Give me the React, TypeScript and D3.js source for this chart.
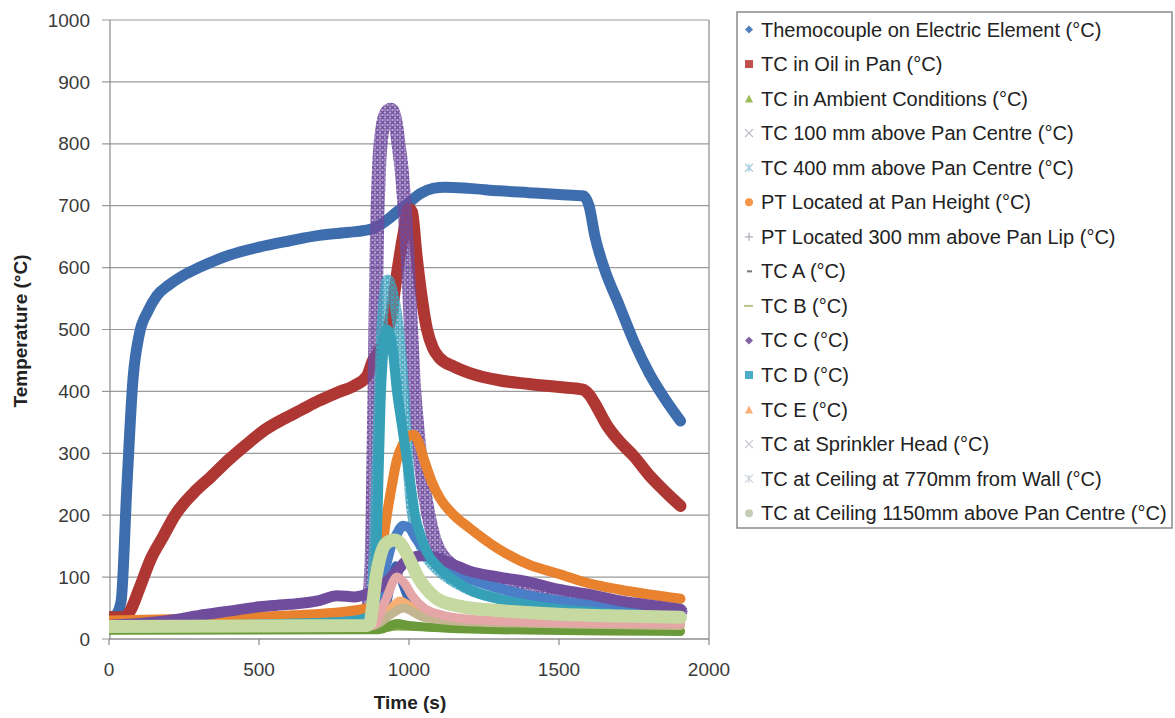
import React from 'react';
import * as d3 from 'd3';

// ---------------- data ----------------
const xTicks = [0, 500, 1000, 1500, 2000];
const yTicks = [0, 100, 200, 300, 400, 500, 600, 700, 800, 900, 1000];

const elementTime = [0, 20, 40, 60, 80, 100, 130, 160, 200, 250, 300, 400, 500, 600, 700, 800, 850, 880, 900, 930, 960, 1000, 1040, 1080, 1120, 1200, 1300, 1400, 1500, 1580, 1600, 1620, 1650, 1700, 1750, 1800, 1850, 1905];
const elementTemp = [35, 38, 60, 250, 420, 490, 530, 555, 572, 588, 600, 620, 633, 643, 652, 657, 660, 663, 668, 678, 690, 705, 720, 728, 730, 728, 724, 721, 718, 716, 700, 650, 600, 540, 480, 430, 390, 352];

const oilTime = [0, 50, 70, 100, 140, 180, 220, 280, 340, 400, 460, 520, 580, 640, 700, 760, 820, 860, 880, 900, 920, 940, 960, 980, 1000, 1010, 1025, 1040, 1060, 1080, 1100, 1150, 1200, 1300, 1400, 1500, 1580, 1600, 1620, 1660, 1700, 1750, 1800, 1850, 1905];
const oilTemp = [35, 35, 45, 80, 130, 165, 200, 235, 262, 290, 315, 338, 355, 370, 385, 398, 410, 425, 450, 465, 485, 520, 590, 650, 695, 690, 620, 560, 500, 470, 455, 440, 430, 418, 412, 407, 403, 395, 380, 345, 320, 295, 265, 240, 215];

const ambientTime = [0, 500, 900, 960, 1100, 1500, 1905];
const ambientTemp = [16, 16, 16, 20, 18, 16, 15];

const tc100Time = [0, 300, 600, 860, 875, 882, 888, 893, 900, 910, 925, 940, 955, 965, 975, 985, 995, 1005, 1015, 1030, 1045, 1065, 1085, 1110, 1200, 1400, 1600, 1905];
const tc100Temp = [22, 24, 28, 40, 120, 300, 500, 650, 760, 820, 850, 855, 835, 800, 760, 700, 620, 520, 420, 330, 260, 200, 160, 135, 105, 80, 60, 45];

const tc400Time = [0, 600, 870, 885, 895, 905, 915, 930, 945, 960, 975, 985, 995, 1005, 1020, 1040, 1070, 1100, 1200, 1300, 1500, 1700, 1905];
const tc400Temp = [20, 24, 40, 150, 300, 450, 540, 580, 560, 520, 450, 380, 300, 230, 180, 150, 125, 110, 80, 65, 50, 42, 38];

const panHeightTime = [0, 200, 500, 800, 890, 905, 920, 940, 960, 980, 1000, 1015, 1030, 1050, 1075, 1100, 1150, 1200, 1300, 1400, 1500, 1600, 1700, 1800, 1905];
const panHeightTemp = [30, 32, 36, 45, 55, 120, 180, 240, 290, 315, 328, 330, 320, 290, 255, 230, 200, 180, 145, 120, 105, 90, 80, 72, 65];

const panLipTime = [0, 850, 880, 900, 920, 940, 960, 980, 1000, 1020, 1050, 1100, 1150, 1200, 1300, 1400, 1500, 1600, 1700, 1800, 1905];
const panLipTemp = [18, 22, 30, 60, 110, 150, 170, 183, 180, 165, 145, 125, 110, 98, 82, 70, 62, 55, 50, 46, 43];

const tcATime = [0, 880, 930, 955, 975, 1000, 1050, 1200, 1905];
const tcATemp = [18, 20, 60, 120, 90, 60, 40, 30, 22];

const tcBTime = [0, 900, 960, 1000, 1200, 1905];
const tcBTemp = [14, 15, 25, 22, 16, 12];

const tcCTime = [0, 100, 200, 300, 400, 500, 600, 700, 760, 820, 870, 920, 960, 1000, 1050, 1100, 1150, 1200, 1300, 1400, 1500, 1600, 1700, 1800, 1905];
const tcCTemp = [22, 25, 30, 38, 45, 52, 56, 62, 70, 68, 75, 90, 110, 130, 135, 130, 120, 110, 100, 92, 80, 72, 62, 55, 48];

const tcDTime = [0, 800, 880, 895, 905, 915, 925, 935, 945, 960, 975, 990, 1005, 1020, 1040, 1060, 1100, 1150, 1200, 1300, 1400, 1500, 1600, 1700, 1800, 1905];
const tcDTemp = [20, 28, 40, 200, 380, 470, 500, 495, 470, 400, 350, 300, 250, 200, 165, 140, 115, 95, 80, 65, 55, 48, 44, 40, 38, 36];

const tcETime = [0, 880, 930, 970, 1000, 1050, 1200, 1500, 1905];
const tcETemp = [20, 22, 45, 62, 55, 40, 30, 25, 22];

const sprinklerTime = [0, 880, 940, 980, 1050, 1200, 1600, 1905];
const sprinklerTemp = [20, 22, 40, 50, 35, 28, 24, 22];

const ceil770Time = [0, 880, 920, 960, 985, 1010, 1050, 1100, 1200, 1400, 1600, 1905];
const ceil770Temp = [20, 22, 60, 100, 90, 70, 50, 40, 32, 28, 26, 25];

const ceil1150Time = [0, 860, 870, 880, 890, 905, 925, 950, 970, 990, 1010, 1030, 1060, 1100, 1180, 1300, 1500, 1700, 1905];
const ceil1150Temp = [20, 22, 25, 60, 100, 135, 155, 160, 155, 140, 120, 100, 80, 63, 52, 46, 40, 37, 35];

const seriesNames = [
  'Themocouple on Electric Element (°C)',
  'TC in Oil in Pan (°C)',
  'TC in Ambient Conditions (°C)',
  'TC 100 mm above Pan Centre (°C)',
  'TC 400 mm above Pan Centre (°C)',
  'PT Located at Pan Height (°C)',
  'PT Located 300 mm above Pan Lip (°C)',
  'TC A (°C)',
  'TC B (°C)',
  'TC C (°C)',
  'TC D (°C)',
  'TC E (°C)',
  'TC at Sprinkler Head (°C)',
  'TC at Ceiling at 770mm from Wall (°C)',
  'TC at Ceiling 1150mm above Pan Centre (°C)',
];

const seriesTimes = [elementTime, oilTime, ambientTime, tc100Time, tc400Time, panHeightTime, panLipTime, tcATime, tcBTime, tcCTime, tcDTime, tcETime, sprinklerTime, ceil770Time, ceil1150Time];
const seriesTemps = [elementTemp, oilTemp, ambientTemp, tc100Temp, tc400Temp, panHeightTemp, panLipTemp, tcATemp, tcBTemp, tcCTemp, tcDTemp, tcETemp, sprinklerTemp, ceil770Temp, ceil1150Temp];

// style per series
const lineColors = ['#3E6DAE', '#AE3733', '#7FA646', '#6E4A9E', '#3FA3BE', '#E8822F', '#4A7FC8', '#3A63B0', '#6A9A3A', '#6F4D9C', '#35A0B7', '#F6AE72', '#C2B590', '#E4A6A6', '#C5D9A0'];
const legendColors = ['#4F81BD', '#C0504D', '#9BBB59', '#B9B9C8', '#A9CFE0', '#F79646', '#B0B0B8', '#777777', '#B7C48E', '#8064A2', '#4BACC6', '#F9B07A', '#C8C8D0', '#D0D4DC', '#C4CCB4'];
const lineWidths = [11, 12, 8, 14, 11, 10, 10, 7, 9, 11, 10, 8, 9, 9, 13];
const textured = [false, false, false, true, true, false, false, false, false, false, false, false, false, false, false];
const markers = ['diamond', 'square', 'triangle', 'x', 'star', 'circle', 'plus', 'dash', 'longdash', 'diamond', 'square', 'triangle', 'x', 'star', 'circle'];

// ---------------- layout ----------------
const W = 1175;
const H = 718;
const plotLeft = 109;
const plotRight = 709;
const plotTop = 20;
const plotBottom = 639;
const font = '"Liberation Sans", Arial, Helvetica, sans-serif';

const x = d3.scaleLinear().domain([0, 2000]).range([plotLeft, plotRight]);
const y = d3.scaleLinear().domain([0, 1000]).range([plotBottom, plotTop]);

const line = d3
  .line<[number, number]>()
  .x((d) => x(d[0]))
  .y((d) => y(d[1]))
  .curve(d3.curveMonotoneX);

function legendMarker(kind: string, cx: number, cy: number, color: string) {
  const s = 4;
  switch (kind) {
    case 'diamond':
      return <path d={`M${cx},${cy - s}L${cx + s},${cy}L${cx},${cy + s}L${cx - s},${cy}Z`} fill={color} />;
    case 'square':
      return <rect x={cx - s} y={cy - s} width={2 * s} height={2 * s} fill={color} />;
    case 'triangle':
      return <path d={`M${cx},${cy - s}L${cx + s},${cy + s}L${cx - s},${cy + s}Z`} fill={color} />;
    case 'x':
      return <path d={`M${cx - s},${cy - s}L${cx + s},${cy + s}M${cx - s},${cy + s}L${cx + s},${cy - s}`} stroke={color} strokeWidth={1.3} />;
    case 'star':
      return <path d={`M${cx - s},${cy - s}L${cx + s},${cy + s}M${cx - s},${cy + s}L${cx + s},${cy - s}M${cx},${cy - s}L${cx},${cy + s}`} stroke={color} strokeWidth={1.3} />;
    case 'circle':
      return <circle cx={cx} cy={cy} r={s} fill={color} />;
    case 'plus':
      return <path d={`M${cx - s},${cy}L${cx + s},${cy}M${cx},${cy - s}L${cx},${cy + s}`} stroke={color} strokeWidth={1.3} />;
    case 'dash':
      return <path d={`M${cx - 2},${cy}L${cx + 3},${cy}`} stroke={color} strokeWidth={2} />;
    case 'longdash':
      return <path d={`M${cx - 5},${cy}L${cx + 4},${cy}`} stroke={color} strokeWidth={2} />;
    default:
      return null;
  }
}

export default function App() {
  const series = seriesNames.map((name, i) => ({
    name,
    points: seriesTimes[i].map((t, j) => [t, seriesTemps[i][j]] as [number, number]),
    color: lineColors[i],
    legendColor: legendColors[i],
    width: lineWidths[i],
    textured: textured[i],
    marker: markers[i],
  }));

  const legendX = 737;
  const legendY = 12;
  const legendW = 435;
  const legendH = 516;
  const rowStart = 29.5;
  const rowStep = 34.55;

  return (
    <svg
      width={W}
      height={H}
      style={{ position: 'absolute', left: 0, top: 0, background: '#fff' }}
      xmlns="http://www.w3.org/2000/svg"
    >
      <defs>
        {series.map((s, i) =>
          s.textured ? (
            <pattern key={i} id={`tex${i}`} patternUnits="userSpaceOnUse" width={5} height={5}>
              <rect width={5} height={5} fill={s.color} opacity={0.5} />
              <path d="M0.5,0.5L4.5,4.5M0.5,4.5L4.5,0.5" stroke={s.color} strokeWidth={1.3} />
            </pattern>
          ) : null
        )}
        <clipPath id="plotClip">
          <rect x={plotLeft} y={plotTop - 5} width={plotRight - plotLeft} height={plotBottom - plotTop + 5} />
        </clipPath>
      </defs>

      {/* gridlines */}
      {yTicks.map((t) => (
        <line key={`g${t}`} x1={plotLeft - 7} x2={plotRight} y1={y(t)} y2={y(t)} stroke="#9a9a9a" strokeWidth={1.2} />
      ))}
      {/* plot border right */}
      <line x1={plotRight} x2={plotRight} y1={plotTop} y2={plotBottom} stroke="#8a8a8a" strokeWidth={1.2} />
      {/* y axis */}
      <line x1={plotLeft + 1} x2={plotLeft + 1} y1={plotTop} y2={plotBottom} stroke="#8a8a8a" strokeWidth={1.2} />
      {/* x axis */}
      <line x1={plotLeft} x2={plotRight} y1={plotBottom} y2={plotBottom} stroke="#8a8a8a" strokeWidth={1.2} />
      {xTicks.map((t) => (
        <line key={`xt${t}`} x1={x(t)} x2={x(t)} y1={plotBottom} y2={plotBottom + 6} stroke="#8a8a8a" strokeWidth={1.2} />
      ))}

      {/* series */}
      <g clipPath="url(#plotClip)">
        {series.map((s, i) => (
          <path
            key={s.name}
            d={line(s.points) || ''}
            fill="none"
            stroke={s.textured ? `url(#tex${i})` : s.color}
            strokeWidth={s.width}
            strokeLinejoin="round"
            strokeLinecap="round"
          />
        ))}
      </g>

      {/* tick labels */}
      {yTicks.map((t) => (
        <text key={`yl${t}`} x={90} y={y(t)} dy="0.35em" textAnchor="end" fontFamily={font} fontSize={19} fill="#3a3a3a">
          {t}
        </text>
      ))}
      {xTicks.map((t) => (
        <text key={`xl${t}`} x={x(t)} y={676} textAnchor="middle" fontFamily={font} fontSize={19} fill="#3a3a3a">
          {t}
        </text>
      ))}

      {/* axis titles */}
      <text x={410} y={709} textAnchor="middle" fontFamily={font} fontSize={19} fontWeight="bold" fill="#222">
        Time (s)
      </text>
      <text
        transform="translate(27,331) rotate(-90)"
        textAnchor="middle"
        fontFamily={font}
        fontSize={19}
        fontWeight="bold"
        fill="#222"
      >
        Temperature (°C)
      </text>

      {/* legend */}
      <rect x={legendX} y={legendY} width={legendW} height={legendH} fill="#fff" stroke="#8a8a8a" strokeWidth={1.5} />
      {series.map((s, i) => {
        const cy = legendY + rowStart - 12 + i * rowStep;
        return (
          <g key={`lg${i}`}>
            {legendMarker(s.marker, 749, cy, s.legendColor)}
            <text x={761} y={cy} dy="0.35em" fontFamily={font} fontSize={20} fill="#222">
              {s.name}
            </text>
          </g>
        );
      })}
    </svg>
  );
}
